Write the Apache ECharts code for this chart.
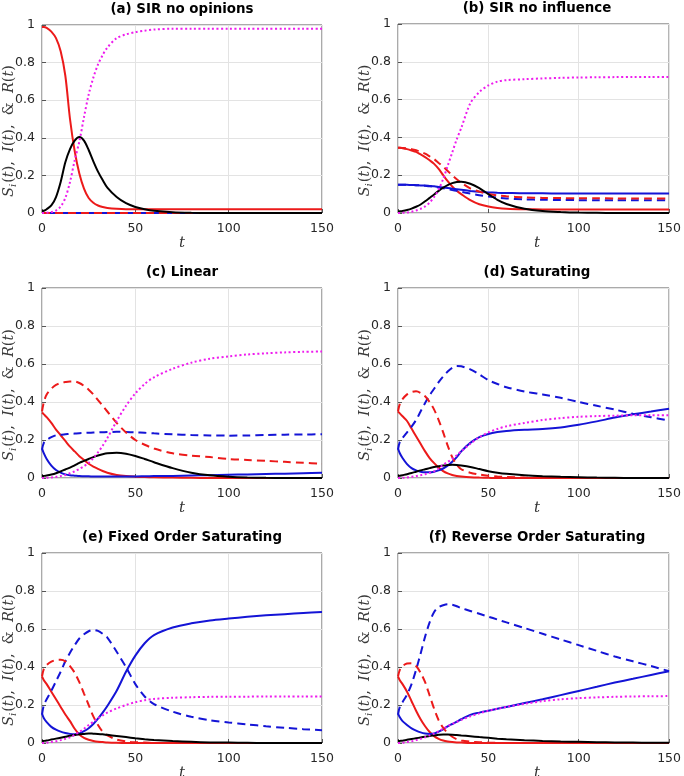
<!DOCTYPE html>
<html>
<head>
<meta charset="utf-8">
<script src="https://cdn.jsdelivr.net/npm/echarts@6/dist/echarts.min.js"></script>
<style>
html, body { margin: 0; padding: 0; background: #fff; }
#chart { width: 684px; height: 776px; }
</style>
</head>
<body>
<div id="chart"></div>
<script>
// time samples (shared by every curve)
var T = [0, 1, 2.5, 5, 7.5, 10, 12.5, 15, 17.5, 20, 22.5, 25, 27.5, 30, 32.5, 35, 40, 45, 50, 55, 60, 70, 80, 90, 100, 110, 120, 130, 140, 150];

// (a) SIR no opinions
var S1a = [0.99,0.99,0.985,0.965,0.93,0.86,0.73,0.5,0.33,0.21,0.13,0.08,0.055,0.04,0.032,0.027,0.022,0.02,0.02,0.02,0.02,0.02,0.02,0.02,0.02,0.02,0.02,0.02,0.02,0.02];
var S2a = [0,0,0,0,0,0,0,0,0,0,0,0,0,0,0,0,0,0,0,0,0,0,0,0,0,0,0,0,0,0];
var S3a = [0,0,0,0,0,0,0,0,0,0,0,0,0,0,0,0,0,0,0,0,0,0,0,0,0,0,0,0,0,0];
var S4a = [0,0,0,0,0,0,0,0,0,0,0,0,0,0,0,0,0,0,0,0,0,0,0,0,0,0,0,0,0,0];
var Ia  = [0.01,0.012,0.02,0.04,0.085,0.165,0.27,0.34,0.385,0.404,0.385,0.335,0.275,0.22,0.175,0.135,0.085,0.052,0.032,0.02,0.012,0.004,0.001,0,0,0,0,0,0,0];
var Ra  = [0,0,0.001,0.005,0.013,0.035,0.08,0.165,0.28,0.38,0.51,0.63,0.72,0.79,0.84,0.88,0.93,0.95,0.962,0.97,0.976,0.98,0.98,0.98,0.98,0.98,0.98,0.98,0.98,0.98];

// (b) SIR no influence
var S1b = [0.345,0.345,0.343,0.338,0.331,0.323,0.31,0.296,0.279,0.26,0.233,0.2,0.168,0.14,0.118,0.1,0.068,0.046,0.034,0.027,0.023,0.02,0.019,0.018,0.018,0.018,0.018,0.018,0.018,0.018];
var S2b = [0.345,0.345,0.344,0.342,0.338,0.332,0.324,0.314,0.3,0.285,0.265,0.245,0.222,0.2,0.178,0.16,0.13,0.113,0.1,0.093,0.088,0.083,0.08,0.079,0.078,0.078,0.077,0.077,0.077,0.077];
var S3b = [0.15,0.15,0.15,0.149,0.148,0.147,0.146,0.145,0.143,0.141,0.138,0.135,0.132,0.129,0.126,0.123,0.117,0.112,0.109,0.107,0.106,0.104,0.104,0.103,0.103,0.103,0.103,0.103,0.103,0.103];
var S4b = [0.15,0.15,0.15,0.149,0.148,0.147,0.146,0.144,0.142,0.139,0.135,0.131,0.127,0.122,0.117,0.112,0.103,0.094,0.087,0.081,0.077,0.072,0.07,0.069,0.068,0.068,0.068,0.067,0.067,0.067];
var Ib  = [0.008,0.009,0.011,0.016,0.023,0.033,0.045,0.062,0.08,0.098,0.117,0.134,0.148,0.158,0.164,0.165,0.155,0.132,0.1,0.07,0.048,0.022,0.01,0.005,0.002,0.001,0,0,0,0];
var Rb  = [0,0,0.001,0.003,0.007,0.013,0.022,0.035,0.055,0.085,0.125,0.18,0.25,0.32,0.39,0.45,0.58,0.64,0.675,0.695,0.703,0.708,0.712,0.715,0.717,0.718,0.719,0.72,0.72,0.72];

// (c) Linear
var S1c = [0.345,0.335,0.32,0.29,0.255,0.225,0.195,0.165,0.14,0.115,0.095,0.075,0.06,0.048,0.037,0.028,0.016,0.01,0.007,0.005,0.004,0.002,0.001,0,0,0,0,0,0,0];
var S2c = [0.35,0.4,0.44,0.47,0.49,0.5,0.505,0.508,0.508,0.5,0.485,0.465,0.44,0.41,0.38,0.35,0.29,0.24,0.2,0.175,0.155,0.13,0.118,0.11,0.1,0.095,0.09,0.085,0.08,0.075];
var S3c = [0.155,0.13,0.1,0.065,0.042,0.028,0.019,0.014,0.012,0.01,0.009,0.009,0.008,0.008,0.008,0.008,0.008,0.008,0.008,0.009,0.01,0.011,0.013,0.015,0.017,0.019,0.021,0.023,0.025,0.027];
var S4c = [0.15,0.185,0.2,0.215,0.225,0.228,0.23,0.232,0.234,0.236,0.237,0.238,0.239,0.24,0.241,0.242,0.243,0.242,0.24,0.238,0.235,0.23,0.226,0.224,0.223,0.224,0.226,0.228,0.229,0.23];
var Ic  = [0.01,0.011,0.013,0.018,0.025,0.035,0.045,0.055,0.067,0.08,0.09,0.1,0.11,0.118,0.125,0.13,0.133,0.128,0.116,0.1,0.083,0.052,0.028,0.014,0.007,0.003,0.001,0,0,0];
var Rc  = [0,0,0.001,0.003,0.006,0.01,0.016,0.025,0.035,0.048,0.062,0.08,0.105,0.135,0.17,0.21,0.3,0.38,0.445,0.495,0.53,0.575,0.607,0.628,0.64,0.65,0.656,0.661,0.664,0.666];

// (d) Saturating
var S1d = [0.35,0.34,0.325,0.3,0.26,0.22,0.18,0.14,0.105,0.078,0.055,0.036,0.024,0.016,0.011,0.008,0.004,0.002,0.001,0,0,0,0,0,0,0,0,0,0,0];
var S2d = [0.35,0.39,0.415,0.44,0.452,0.456,0.448,0.43,0.4,0.36,0.305,0.24,0.17,0.11,0.07,0.046,0.028,0.018,0.012,0.008,0.005,0.002,0.001,0,0,0,0,0,0,0];
var S3d = [0.155,0.13,0.105,0.073,0.052,0.04,0.033,0.03,0.03,0.033,0.04,0.05,0.065,0.085,0.11,0.14,0.185,0.215,0.232,0.242,0.248,0.254,0.258,0.266,0.28,0.298,0.318,0.335,0.35,0.365];
var S4d = [0.15,0.19,0.21,0.24,0.27,0.305,0.35,0.395,0.435,0.47,0.505,0.535,0.56,0.58,0.59,0.588,0.572,0.545,0.515,0.495,0.478,0.455,0.44,0.422,0.4,0.38,0.36,0.338,0.32,0.302];
var Id  = [0.01,0.012,0.015,0.02,0.026,0.033,0.04,0.046,0.052,0.058,0.062,0.066,0.068,0.07,0.069,0.066,0.058,0.047,0.036,0.028,0.022,0.014,0.009,0.006,0.004,0.002,0.001,0,0,0];
var Rd  = [0,0,0.001,0.003,0.006,0.01,0.015,0.02,0.027,0.035,0.05,0.07,0.085,0.1,0.12,0.14,0.18,0.215,0.24,0.258,0.272,0.29,0.305,0.315,0.322,0.326,0.328,0.33,0.33,0.33];

// (e) Fixed Order Saturating
var S1e = [0.35,0.33,0.31,0.27,0.23,0.19,0.15,0.115,0.075,0.045,0.027,0.017,0.011,0.007,0.005,0.003,0.001,0,0,0,0,0,0,0,0,0,0,0,0,0];
var S2e = [0.35,0.39,0.41,0.428,0.437,0.438,0.43,0.405,0.37,0.32,0.26,0.2,0.14,0.095,0.06,0.04,0.018,0.008,0.004,0.002,0,0,0,0,0,0,0,0,0,0];
var S3e = [0.155,0.13,0.11,0.085,0.07,0.06,0.053,0.048,0.046,0.05,0.062,0.078,0.1,0.128,0.16,0.195,0.275,0.375,0.46,0.525,0.568,0.608,0.63,0.645,0.655,0.664,0.672,0.678,0.684,0.69];
var S4e = [0.15,0.2,0.23,0.275,0.325,0.375,0.43,0.475,0.515,0.55,0.572,0.588,0.595,0.59,0.575,0.555,0.48,0.4,0.31,0.245,0.205,0.165,0.138,0.12,0.108,0.098,0.088,0.08,0.073,0.067];
var Ie  = [0.01,0.011,0.013,0.018,0.023,0.028,0.033,0.038,0.042,0.046,0.048,0.05,0.049,0.048,0.046,0.043,0.037,0.031,0.025,0.02,0.016,0.01,0.006,0.003,0.002,0.001,0,0,0,0];
var Re  = [0,0,0.001,0.005,0.009,0.015,0.022,0.03,0.043,0.058,0.075,0.095,0.112,0.13,0.145,0.16,0.182,0.2,0.215,0.225,0.232,0.238,0.241,0.243,0.244,0.244,0.245,0.245,0.245,0.245];

// (f) Reverse Order Saturating
var S1f = [0.35,0.33,0.31,0.27,0.22,0.17,0.125,0.088,0.058,0.036,0.022,0.013,0.008,0.005,0.003,0.002,0,0,0,0,0,0,0,0,0,0,0,0,0,0];
var S2f = [0.35,0.385,0.405,0.418,0.42,0.405,0.37,0.32,0.25,0.18,0.12,0.08,0.052,0.033,0.02,0.013,0.007,0.004,0.002,0.001,0,0,0,0,0,0,0,0,0,0];
var S3f = [0.155,0.135,0.115,0.095,0.077,0.065,0.056,0.05,0.048,0.05,0.06,0.072,0.088,0.1,0.112,0.125,0.148,0.16,0.17,0.18,0.19,0.21,0.23,0.252,0.274,0.296,0.318,0.338,0.358,0.378];
var S4f = [0.15,0.19,0.215,0.255,0.31,0.385,0.47,0.56,0.635,0.69,0.715,0.725,0.73,0.728,0.72,0.71,0.695,0.68,0.665,0.65,0.635,0.605,0.575,0.545,0.515,0.485,0.455,0.43,0.405,0.378];
var If  = [0.01,0.011,0.012,0.017,0.021,0.025,0.029,0.033,0.037,0.04,0.043,0.045,0.045,0.044,0.042,0.04,0.036,0.031,0.027,0.023,0.02,0.015,0.011,0.008,0.006,0.004,0.003,0.002,0.001,0.001];
var Rf  = [0,0,0.001,0.005,0.009,0.015,0.022,0.03,0.04,0.05,0.062,0.075,0.088,0.1,0.111,0.122,0.14,0.156,0.17,0.18,0.19,0.206,0.22,0.23,0.236,0.24,0.243,0.245,0.246,0.247];

var titles = ['(a) SIR no opinions', '(b) SIR no influence', '(c) Linear', '(d) Saturating',
              '(e) Fixed Order Saturating', '(f) Reverse Order Saturating'];

var panels = [
  [S1a, S3a, S4a, S2a, Ia, Ra],
  [S1b, S3b, S4b, S2b, Ib, Rb],
  [S1c, S3c, S4c, S2c, Ic, Rc],
  [S1d, S3d, S4d, S2d, Id, Rd],
  [S1e, S3e, S4e, S2e, Ie, Re],
  [S1f, S3f, S4f, S2f, If, Rf]
];

// plot boxes in pixels
var boxes = [
  { left: 42,  top: 25,  width: 280, height: 188 },
  { left: 398, top: 24,  width: 278, height: 189 },
  { left: 42,  top: 288, width: 280, height: 190 },
  { left: 398, top: 288, width: 278, height: 190 },
  { left: 42,  top: 553, width: 280, height: 190 },
  { left: 398, top: 553, width: 278, height: 190 }
];

// order: S1 red solid, S3 blue solid, S4 blue dashed, S2 red dashed, I black, R magenta dotted
var styles = [
  { color: '#ec1a1a', type: 'solid' },
  { color: '#1414d6', type: 'solid' },
  { color: '#1414d6', type: [8, 5] },
  { color: '#ec1a1a', type: [8, 5] },
  { color: '#000000', type: 'solid' },
  { color: '#ee1cee', type: [2, 2.5] }
];

var AXIS = '#555';
var TICKFONT = { fontFamily: 'DejaVu Sans', fontSize: 12.5, color: '#262626' };

function pts(v) {
  return T.map(function (t, i) { return [t, v[i]]; });
}

var grid = [], xAxis = [], yAxis = [], series = [], graphic = [];

boxes.forEach(function (b, p) {
  grid.push({ left: b.left, top: b.top, width: b.width, height: b.height,
              show: true, borderColor: AXIS, borderWidth: 1 });
  xAxis.push({
    type: 'value', gridIndex: p, min: 0, max: 150, interval: 50,
    axisLine: { show: false },
    axisTick: { inside: true, length: 4, lineStyle: { color: AXIS } },
    axisLabel: Object.assign({ margin: 9 }, TICKFONT),
    splitLine: { lineStyle: { color: '#e3e3e3', width: 1 } }
  });
  yAxis.push({
    type: 'value', gridIndex: p, min: 0, max: 1, interval: 0.2,
    axisLine: { show: false },
    axisTick: { show: true, inside: true, length: 4, lineStyle: { color: AXIS } },
    axisLabel: Object.assign({ margin: 7 }, TICKFONT),
    splitLine: { lineStyle: { color: '#e3e3e3', width: 1 } }
  });

  panels[p].forEach(function (v, k) {
    series.push({
      type: 'line', xAxisIndex: p, yAxisIndex: p,
      data: pts(v), showSymbol: false, symbol: 'none', clip: false,
      smooth: 0.3, silent: true,
      lineStyle: { color: styles[k].color, width: 2, type: styles[k].type }
    });
  });

  var cx = b.left + b.width / 2;
  graphic.push({
    type: 'text', x: cx, y: b.top - 15.5,
    style: { text: titles[p], font: 'bold 13.4px "DejaVu Sans"', fill: '#000',
             align: 'center', verticalAlign: 'middle', textAlign: 'center', textVerticalAlign: 'middle' }
  });
  graphic.push({
    type: 'text', x: cx, y: b.top + b.height + 30,
    style: { text: 't', font: 'italic 15px "DejaVu Serif"', fill: '#333',
             align: 'center', verticalAlign: 'middle', textAlign: 'center', textVerticalAlign: 'middle' }
  });
  graphic.push({
    type: 'text', x: b.left - 33, y: b.top + b.height / 2 + 12, rotation: Math.PI / 2,
    style: {
      text: '{m|S}{s|i}{n|(}{m|t}{n|),  }{m|I}{n|(}{m|t}{n|),  &  }{m|R}{n|(}{m|t}{n|)}',
      fill: '#3a3a3a', align: 'center', verticalAlign: 'middle',
      textAlign: 'center', textVerticalAlign: 'middle',
      rich: {
        m: { fontFamily: 'DejaVu Serif', fontStyle: 'italic', fontSize: 14.5, fill: '#3a3a3a', lineHeight: 18 },
        n: { fontFamily: 'DejaVu Serif', fontSize: 14.5, fill: '#3a3a3a', lineHeight: 18 },
        s: { fontFamily: 'DejaVu Serif', fontStyle: 'italic', fontSize: 10, fill: '#3a3a3a', lineHeight: 18, verticalAlign: 'bottom', padding: [6, 1, 0, 0] }
      }
    }
  });
});

var chart = echarts.init(document.getElementById('chart'), null, { renderer: 'canvas' });
chart.setOption({
  animation: false,
  backgroundColor: '#fff',
  grid: grid,
  xAxis: xAxis,
  yAxis: yAxis,
  series: series,
  graphic: graphic
});
</script>
</body>
</html>
